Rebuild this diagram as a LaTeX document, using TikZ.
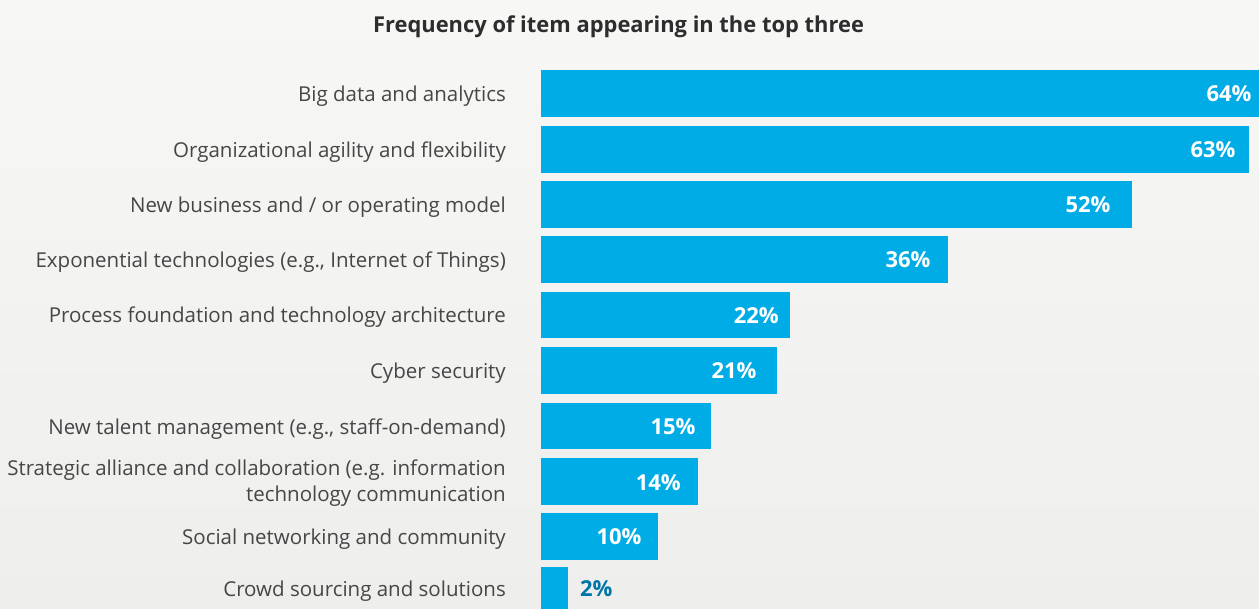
\documentclass[tikz,border=0pt]{standalone}
\usepackage{fontspec}
\setmainfont{Open Sans}
\definecolor{barblue}{RGB}{0,172,230}
\definecolor{darkblue}{RGB}{0,118,168}
\definecolor{labgray}{RGB}{70,70,70}
\definecolor{titlegray}{RGB}{45,45,45}
\definecolor{bgtop}{RGB}{247,247,246}
\definecolor{bgbot}{RGB}{238,238,237}
\begin{document}
\begin{tikzpicture}[x=1pt,y=-1pt,
  barlabel/.style={anchor=base east,inner sep=0pt,text=labgray,font=\fontsize{20.5}{25}\selectfont},
  pctlabel/.style={anchor=base east,inner sep=0pt,text=white,font=\fontsize{22}{26}\selectfont\bfseries},
  titlelabel/.style={anchor=base,inner sep=0pt,text=titlegray,font=\fontsize{21.9}{26}\selectfont\bfseries}]
\shade[top color=bgtop,bottom color=bgbot] (0,0) rectangle (1259,609);
\useasboundingbox (0,0) rectangle (1259,609);
\node[titlelabel] (title) at (618.5,33) {Frequency of item appearing in the top three};
\foreach \n/\t/\b/\r/\lab/\pc/\pr in {
  1/70/116.7/1259/{Big data and analytics}/64/1251.7,
  2/126/172.7/1249/{Organizational agility and flexibility}/63/1235.7,
  3/181/227.7/1132/{New business and / or operating model}/52/1110.7,
  4/236/282.7/948/{Exponential technologies (e.g.{,} Internet of Things)}/36/930.7,
  5/292/338/790/{Process foundation and technology architecture}/22/779,
  6/347/393.7/777/{Cyber security}/21/756.7,
  7/403/449.5/711/{New talent management (e.g.{,} staff-on-demand)}/15/695.7,
  9/513/559.7/658/{Social networking and community}/10/641.7}{
  \fill[barblue] (541,\t) rectangle (\r,\b);
  \node[barlabel] (lab\n) at (506,{(\t+\b)/2+8}) {\lab};
  \node[pctlabel] (pct\n) at (\pr,{(\t+\b)/2+8.5}) {\pc\%};
}
\fill[barblue] (541,458) rectangle (698,504.7);
\node[barlabel] (lab8a) at (506,476) {Strategic alliance and collaboration (e.g. information};
\node[barlabel] (lab8b) at (506,501) {technology communication};
\node[pctlabel] (pct8) at (681,490) {14\%};
\fill[barblue] (541,567) rectangle (568,609);
\node[barlabel] (lab10) at (506,596.5) {Crowd sourcing and solutions};
\node[pctlabel,text=darkblue] (pct10) at (612.7,596.5) {2\%};
\end{tikzpicture}
\end{document}
